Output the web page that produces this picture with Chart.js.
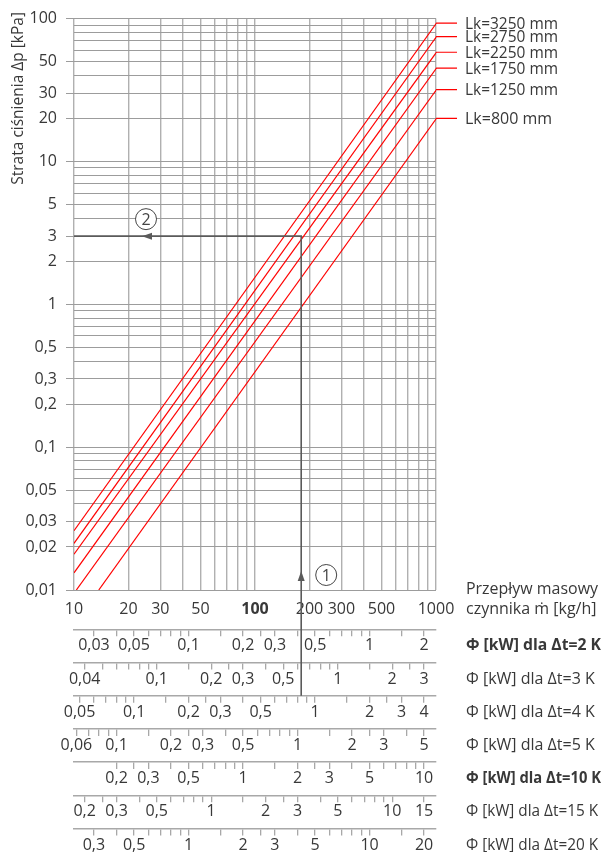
<!DOCTYPE html>
<html>
<head>
<meta charset="utf-8">
<script src="https://cdn.jsdelivr.net/npm/chart.js@4/dist/chart.umd.min.js"></script>
<style>
  html, body { margin: 0; padding: 0; background: #fff; }
  canvas { display: block; }
</style>
</head>
<body>
<canvas id="nomogram" width="608" height="852"></canvas>
<script>
// Mass flow (kg/h) and pressure loss (kPa) ranges
const flowMin = 10, flowMax = 1000;
const dpMin = 0.01, dpMax = 100;

// Grid lines and labelled values of the main axes
const flowGrid = [10, 20, 30, 40, 50, 60, 70, 80, 90, 100, 200, 300, 400, 500, 600, 700, 800, 900, 1000];
const flowLabels = [10, 20, 30, 50, 100, 200, 300, 500, 1000];
const dpGrid = [0.01, 0.02, 0.03, 0.04, 0.05, 0.06, 0.07, 0.08, 0.09,
                0.1, 0.2, 0.3, 0.4, 0.5, 0.6, 0.7, 0.8, 0.9,
                1, 2, 3, 4, 5, 6, 7, 8, 9,
                10, 20, 30, 40, 50, 60, 70, 80, 90, 100];
const dpLabels = [100, 50, 30, 20, 10, 5, 3, 2, 1, 0.5, 0.3, 0.2, 0.1, 0.05, 0.03, 0.02, 0.01];

// Pressure loss lines for each coil length Lk (start and end of each line)
const lkNames = ['Lk=3250 mm', 'Lk=2750 mm', 'Lk=2250 mm', 'Lk=1750 mm', 'Lk=1250 mm', 'Lk=800 mm'];
const lkFlow = [[10, 1000], [10, 1000], [10, 1000], [10, 1000], [10.3, 1000], [13.7, 1000]];
const lkDp = [[0.026, 92], [0.0212, 74], [0.0178, 57.5], [0.0132, 44.5], [0.01, 31.5], [0.01, 19.8]];

// Worked example: reading the pressure loss for a given mass flow
const exampleFlow = 180;
const exampleDp = 3;

// Heat output scales: Φ = ṁ · cp · Δt
const cpWater = 4.19; // kJ/(kg·K)
const deltaT = [2, 3, 4, 5, 10, 15, 20];
const phiTicks = [
  [0.03, 0.04, 0.05, 0.06, 0.07, 0.08, 0.09, 0.1, 0.15, 0.2, 0.25, 0.3, 0.4, 0.5, 0.6, 0.7, 0.8, 0.9, 1, 1.5, 2],
  [0.04, 0.05, 0.06, 0.07, 0.08, 0.09, 0.1, 0.15, 0.2, 0.25, 0.3, 0.4, 0.5, 0.6, 0.7, 0.8, 0.9, 1, 1.5, 2, 2.5, 3],
  [0.05, 0.06, 0.07, 0.08, 0.09, 0.1, 0.15, 0.2, 0.25, 0.3, 0.4, 0.5, 0.6, 0.7, 0.8, 0.9, 1, 1.5, 2, 2.5, 3, 4],
  [0.06, 0.07, 0.08, 0.09, 0.1, 0.15, 0.2, 0.25, 0.3, 0.4, 0.5, 0.6, 0.7, 0.8, 0.9, 1, 1.5, 2, 2.5, 3, 4, 5],
  [0.2, 0.25, 0.3, 0.4, 0.5, 0.6, 0.7, 0.8, 0.9, 1, 1.5, 2, 2.5, 3, 4, 5, 6, 7, 8, 9, 10],
  [0.2, 0.25, 0.3, 0.4, 0.5, 0.6, 0.7, 0.8, 0.9, 1, 1.5, 2, 2.5, 3, 4, 5, 6, 7, 8, 9, 10, 15],
  [0.3, 0.4, 0.5, 0.6, 0.7, 0.8, 0.9, 1, 1.5, 2, 2.5, 3, 4, 5, 6, 7, 8, 9, 10, 15, 20]
];
const phiLabels = [
  [0.03, 0.05, 0.1, 0.2, 0.3, 0.5, 1, 2],
  [0.04, 0.1, 0.2, 0.3, 0.5, 1, 2, 3],
  [0.05, 0.1, 0.2, 0.3, 0.5, 1, 2, 3, 4],
  [0.06, 0.1, 0.2, 0.3, 0.5, 1, 2, 3, 5],
  [0.2, 0.3, 0.5, 1, 2, 3, 5, 10],
  [0.2, 0.3, 0.5, 1, 2, 3, 5, 10, 15],
  [0.3, 0.5, 1, 2, 3, 5, 10, 20]
];
const phiBold = [true, false, false, false, true, false, false];

const TEXT = '#383838';
const FONT = '"Open Sans", "Noto Sans", sans-serif';
const SIZE = 16;

Chart.defaults.font.family = FONT;
Chart.defaults.font.size = SIZE;
Chart.defaults.color = TEXT;

const fmt = v => String(+v.toPrecision(6)).replace('.', ',');
const inList = (list, v) => list.some(t => Math.abs(t - v) <= t * 1e-6);

const scales = {
  x: {
    type: 'logarithmic', position: 'bottom', weight: 0,
    min: flowMin, max: flowMax,
    afterBuildTicks: s => { s.ticks = flowGrid.map(v => ({ value: v })); },
    afterFit: s => { s.height = 39.3; },
    grid: { color: '#b0b0b0', lineWidth: 1.4, drawTicks: false },
    border: { display: false },
    ticks: {
      autoSkip: false, maxRotation: 0, padding: 10, color: TEXT,
      font: ctx => ({ size: SIZE, weight: ctx.tick && ctx.tick.value === 100 ? 'bold' : 'normal' }),
      callback: v => inList(flowLabels, v) ? fmt(v) : ''
    }
  },
  y: {
    type: 'logarithmic', position: 'left',
    min: dpMin, max: dpMax,
    afterBuildTicks: s => { s.ticks = dpGrid.map(v => ({ value: v })); },
    afterFit: s => { s.width = 74; },
    grid: {
      color: '#9c9c9c', lineWidth: 1, tickLength: 8,
      tickColor: ctx => ctx.tick && inList(dpLabels, ctx.tick.value) ? '#9c9c9c' : 'rgba(0,0,0,0)'
    },
    border: { display: false },
    ticks: {
      autoSkip: false, padding: 9, color: TEXT,
      callback: v => inList(dpLabels, v) ? fmt(v) : ''
    }
  }
};

deltaT.forEach((dt, i) => {
  scales['phi' + i] = {
    type: 'logarithmic', position: 'bottom', weight: i + 1,
    min: flowMin * cpWater * dt / 3600,
    max: flowMax * cpWater * dt / 3600,
    afterBuildTicks: s => { s.ticks = phiTicks[i].map(v => ({ value: v })); },
    afterFit: s => { s.height = i === deltaT.length - 1 ? 23.5 : 33.2; },
    grid: { drawOnChartArea: false, drawTicks: true, tickLength: 7, color: '#a8a8a8', tickColor: '#a8a8a8', lineWidth: 1.3 },
    border: { display: true, color: '#a8a8a8', width: 1.5 },
    ticks: {
      autoSkip: false, maxRotation: 0, padding: 0, color: TEXT,
      callback: v => inList(phiLabels[i], v) ? fmt(v) : ''
    }
  };
});

const datasets = lkNames.map((name, i) => ({
  label: name,
  data: lkFlow[i].map((x, j) => ({ x, y: lkDp[i][j] })),
  borderColor: '#ff0000',
  borderWidth: 1.2,
  pointRadius: 0,
  tension: 0,
  fill: false,
  xAxisID: 'x',
  yAxisID: 'y'
}));

// Leaders, labels, worked-example arrows and axis captions
const overlay = {
  id: 'overlay',
  afterDraw(chart) {
    const { ctx, chartArea: a, scales: sc } = chart;
    ctx.save();
    ctx.font = SIZE + 'px ' + FONT;
    ctx.textBaseline = 'middle';
    ctx.textAlign = 'left';

    // Lk leaders and names
    chart.data.datasets.forEach((ds, i) => {
      const pts = chart.getDatasetMeta(i).data;
      const p1 = pts[pts.length - 2], p2 = pts[pts.length - 1];
      const slope = (p2.y - p1.y) / (p2.x - p1.x);
      const cx = a.right + 0.5;
      const cy = p2.y + slope * (cx - p2.x);
      ctx.strokeStyle = '#ff0000';
      ctx.lineWidth = 1.2;
      ctx.beginPath();
      ctx.moveTo(p2.x, p2.y);
      ctx.lineTo(cx, cy);
      ctx.lineTo(a.right + 21, cy);
      ctx.stroke();
      ctx.fillStyle = TEXT;
      ctx.fillText(ds.label, a.right + 29, cy + 1, 93);
    });

    // Worked example path
    const ex = sc.x.getPixelForValue(exampleFlow);
    const ey = sc.y.getPixelForValue(exampleDp);
    const startY = sc.phi2.top;
    ctx.strokeStyle = '#5a5a5a';
    ctx.fillStyle = '#5a5a5a';
    ctx.lineWidth = 1.6;
    ctx.beginPath();
    ctx.moveTo(ex, startY);
    ctx.lineTo(ex, ey);
    ctx.lineTo(a.left, ey);
    ctx.stroke();

    const tipY = a.bottom - 19;
    ctx.beginPath();
    ctx.moveTo(ex, tipY);
    ctx.lineTo(ex - 3.5, tipY + 10);
    ctx.lineTo(ex + 3.5, tipY + 10);
    ctx.closePath();
    ctx.fill();

    const tipX = a.left + 68;
    ctx.beginPath();
    ctx.moveTo(tipX, ey);
    ctx.lineTo(tipX + 10, ey - 3.5);
    ctx.lineTo(tipX + 10, ey + 3.5);
    ctx.closePath();
    ctx.fill();

    const marker = (x, y, txt) => {
      ctx.fillStyle = '#fff';
      ctx.strokeStyle = '#444';
      ctx.lineWidth = 1;
      ctx.beginPath();
      ctx.arc(x, y, 10.5, 0, Math.PI * 2);
      ctx.fill();
      ctx.stroke();
      ctx.fillStyle = '#444';
      ctx.textAlign = 'center';
      ctx.font = '16px ' + FONT;
      ctx.fillText(txt, x, y + 1);
    };
    marker(ex + 25, a.bottom - 15, '1');
    marker(tipX + 4, ey - 17, '2');

    // Axis captions
    ctx.fillStyle = TEXT;
    ctx.font = SIZE + 'px ' + FONT;
    ctx.textAlign = 'left';
    ctx.fillText('Przepływ masowy', a.right + 30, a.bottom - 1, 132);
    ctx.fillText('czynnika ṁ [kg/h]', a.right + 30, a.bottom + 19, 132);

    deltaT.forEach((dt, i) => {
      const s = sc['phi' + i];
      ctx.font = (phiBold[i] ? 'bold ' : '') + SIZE + 'px ' + FONT;
      ctx.fillText('Φ [kW] dla Δt=' + dt + ' K', a.right + 30, s.top + 16.5, phiBold[i] ? 135 : 132);
    });

    ctx.save();
    ctx.font = '15.5px ' + FONT;
    ctx.translate(19, 12);
    ctx.rotate(-Math.PI / 2);
    ctx.textAlign = 'right';
    ctx.fillText('Strata ciśnienia Δp [kPa]', 0, 0);
    ctx.restore();

    ctx.restore();
  }
};

new Chart(document.getElementById('nomogram'), {
  type: 'line',
  data: { datasets },
  options: {
    responsive: false,
    animation: false,
    layout: { padding: { left: 0, right: 172, top: 18, bottom: 0 } },
    plugins: { legend: { display: false }, tooltip: { enabled: false } },
    scales
  },
  plugins: [overlay]
});
</script>
</body>
</html>
